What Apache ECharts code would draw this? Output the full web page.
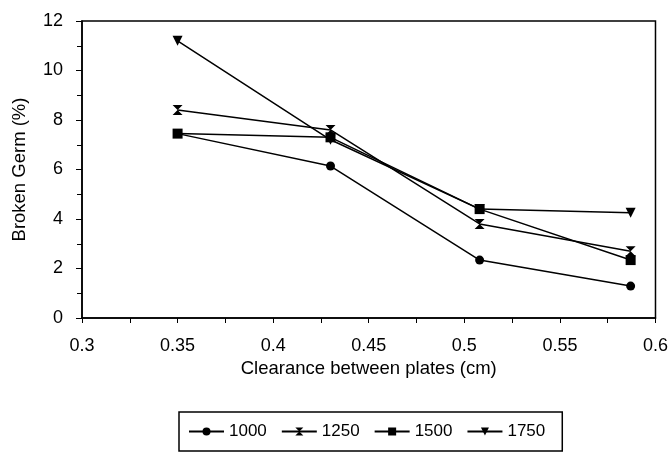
<!DOCTYPE html>
<html>
<head>
<meta charset="utf-8">
<script src="https://cdn.jsdelivr.net/npm/echarts@6/dist/echarts.min.js"></script>
<style>
  html, body { margin: 0; padding: 0; background: #fff; }
  #chart { width: 671px; height: 455px; }
</style>
</head>
<body>
<div id="chart"></div>
<script>
const clearance = [0.35, 0.43, 0.508, 0.587]
const seriesNames = ['1000', '1250', '1500', '1750']
const s1000 = [7.45, 6.14, 2.34, 1.29]
const s1250 = [8.4, 7.6, 3.8, 2.7]
const s1500 = [7.45, 7.3, 4.4, 2.34]
const s1750 = [11.2, 7.2, 4.4, 4.25]

const symbols = [
  'circle',
  'path://M0,0 L10,0 L5,5 L10,10 L0,10 L5,5 Z',
  'rect',
  'path://M0,0 L10,0 L5,9 Z'
]
const values = [s1000, s1250, s1500, s1750]

const font = 'Liberation Sans, Arial, sans-serif'

const chart = echarts.init(document.getElementById('chart'), null, { renderer: 'canvas' })

chart.setOption({
  animation: false,
  backgroundColor: '#fff',
  grid: {
    left: 82, right: 13, top: 21, bottom: 137,
    show: true, borderColor: '#000', borderWidth: 1.5
  },
  legend: {
    top: 412,
    left: 179,
    padding: [11, 17, 11, 9],
    borderColor: '#000',
    borderWidth: 1.5,
    itemWidth: 35,
    itemHeight: 10,
    itemGap: 14,
    textStyle: { fontFamily: font, fontSize: 17, color: '#000' },
    data: seriesNames
  },
  xAxis: {
    type: 'value',
    min: 0.3, max: 0.6, interval: 0.05,
    name: 'Clearance between plates (cm)',
    nameLocation: 'middle',
    nameGap: 40,
    nameTextStyle: { fontFamily: font, fontSize: 18.5, color: '#000' },
    axisLine: { lineStyle: { color: '#000', width: 1.5 } },
    axisTick: { show: true, length: 5, lineStyle: { color: '#000' } },
    minorTick: { show: true, splitNumber: 2, length: 5, lineStyle: { color: '#000' } },
    splitLine: { show: false },
    axisLabel: {
      fontFamily: font, fontSize: 18, color: '#000', margin: 19,
      formatter: v => String(+v.toFixed(2))
    }
  },
  yAxis: {
    type: 'value',
    min: 0, max: 12, interval: 2,
    name: 'Broken Germ (%)',
    nameLocation: 'middle',
    nameGap: 53,
    nameTextStyle: { fontFamily: font, fontSize: 18.5, color: '#000' },
    axisLine: { show: true, lineStyle: { color: '#000', width: 1.5 } },
    axisTick: { show: true, length: 6, lineStyle: { color: '#000' } },
    minorTick: { show: true, splitNumber: 2, length: 5, lineStyle: { color: '#000' } },
    splitLine: { show: false },
    axisLabel: { fontFamily: font, fontSize: 18, color: '#000', margin: 19 }
  },
  series: seriesNames.map((name, i) => ({
    name,
    type: 'line',
    data: clearance.map((x, j) => [x, values[i][j]]),
    symbol: symbols[i],
    symbolSize: i === 0 ? 9 : 10,
    showAllSymbol: true,
    lineStyle: { color: '#000', width: 1.5 },
    itemStyle: { color: '#000', borderWidth: 0 },
    z: 2 + i
  }))
})
</script>
</body>
</html>
